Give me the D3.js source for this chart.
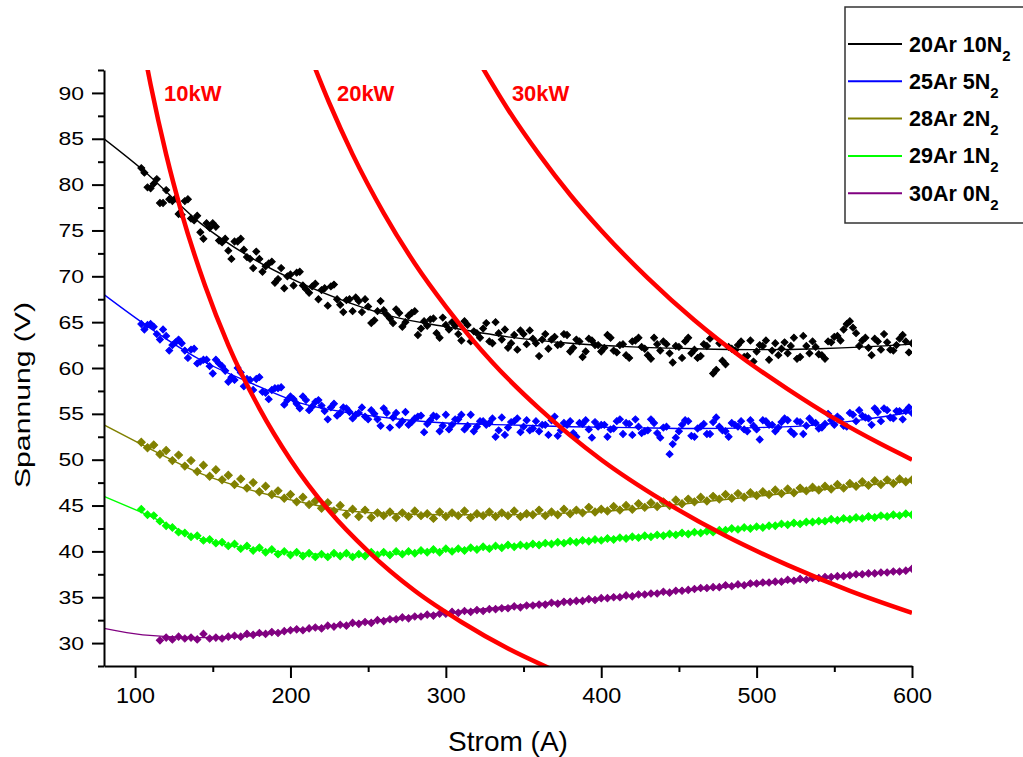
<!DOCTYPE html>
<html>
<head>
<meta charset="utf-8">
<script src="https://cdn.jsdelivr.net/npm/d3@7"></script>
<style>
  html, body { margin: 0; padding: 0; background: #fff; }
  svg { display: block; font-family: "Liberation Sans", Arial, sans-serif; }
</style>
</head>
<body>
<svg id="chart" width="1023" height="757"></svg>
<script>
// ---------- data ----------
const strom = d3.range(104, 601, 4);          // current (A), sampled every 4 A
const stromB = d3.range(106, 600, 4);         // interleaved second scan
const stromPurple = d3.range(116, 601, 4);

const u20Ar10N2 = [
81.8,79.7,80.1,78.0,79.4,78.2,76.8,78.2,76.3,76.6,
74.1,75.3,75.4,73.7,72.8,73.8,74.1,72.1,70.9,71.9,
71.1,71.6,69.7,68.7,70.2,70.4,69.0,68.2,69.2,68.5,
66.8,69.1,66.9,67.4,66.2,67.3,67.5,64.9,66.2,66.3,
65.4,66.4,64.5,65.7,66.2,64.3,64.6,65.4,63.3,64.7,
65.0,63.7,65.1,62.9,63.8,64.3,62.9,65.0,63.1,62.2,
63.6,64.1,62.6,63.2,61.3,63.7,63.1,62.5,63.7,61.8,
63.1,61.2,63.2,62.5,61.8,63.6,61.9,62.5,61.4,62.9,
63.3,62.1,61.0,62.6,62.9,61.6,62.4,61.1,63.3,62.0,
61.3,62.4,59.4,62.7,60.4,62.1,62.5,61.2,63.0,61.8,
62.4,60.9,62.7,62.1,61.6,63.3,61.2,62.4,62.9,61.5,
61.0,62.8,63.5,64.2,65.1,63.8,63.0,62.2,63.2,62.0,
62.8,61.9,63.2,62.9,62.7];
const u20Ar10N2b = [
81.3,79.6,80.6,78.0,78.4,78.5,76.7,78.4,76.1,74.8,
75.8,75.8,73.9,74.1,71.9,73.8,72.9,71.9,72.7,70.5,
71.4,69.3,70.9,70.0,69.0,70.5,68.6,68.9,67.5,68.7,
68.9,67.5,66.1,67.5,67.7,66.1,66.7,65.2,67.3,65.8,
64.9,66.0,65.0,66.0,63.6,65.1,65.3,63.8,65.5,64.2,
64.6,63.0,64.7,64.0,63.3,64.9,62.7,63.8,64.2,62.7,
62.0,63.7,64.1,62.7,63.1,62.1,63.4,62.6,63.6,62.2,
62.9,61.8,63.0,62.5,62.2,63.3,61.7,62.6,61.1,63.0,
62.3,61.4,63.3,61.9,62.6,60.6,62.3,62.9,61.6,61.1,
62.6,63.2,59.8,60.8,62.3,61.9,62.9,61.3,60.7,62.5,
63.0,61.9,61.4,62.8,62.4,61.0,63.5,61.6,62.3,61.4,
62.9,63.4,63.0,64.8,64.4,62.4,63.3,61.4,62.9,63.7,
62.0,62.5,63.6,61.7];

const u25Ar5N2 = [
64.8,64.7,64.5,63.1,63.5,62.5,63.1,61.9,62.0,60.5,
60.9,60.2,60.9,60.2,58.5,58.7,59.5,58.8,57.6,59.0,
57.3,57.6,57.8,56.0,56.9,56.1,56.9,55.4,56.3,55.9,
54.4,56.1,55.1,55.6,54.5,55.1,54.7,55.4,54.4,55.6,
53.5,55.1,54.2,53.8,54.5,54.8,53.9,54.8,53.1,54.9,
53.8,54.4,53.3,54.9,53.6,54.2,54.0,52.5,54.6,53.5,
54.2,53.0,54.3,53.4,53.1,53.8,54.3,52.6,54.0,54.2,
52.5,53.9,53.3,54.1,53.8,52.5,53.4,54.4,54.0,52.7,
53.6,53.1,54.4,52.9,53.5,50.6,52.4,53.8,54.2,52.5,
53.6,52.8,54.1,53.6,53.1,54.0,53.6,53.3,54.3,53.3,
54.3,53.8,53.1,54.1,54.3,52.8,54.1,53.7,54.1,53.4,
53.9,54.3,54.7,53.7,55.1,54.2,54.8,54.5,55.6,54.2,
55.4,54.5,55.3,55.3,55.1];
const u25Ar5N2b = [
64.2,64.8,63.7,64.2,61.9,62.8,62.7,61.1,62.1,60.7,
60.9,59.4,60.5,59.7,59.0,60.0,58.0,58.7,58.8,57.4,
56.6,57.8,57.9,56.5,56.6,55.6,56.5,55.8,56.5,55.3,
55.7,54.8,55.7,55.2,54.9,55.7,54.4,55.0,53.7,55.1,
54.6,53.8,55.2,54.1,54.7,53.0,54.3,54.7,53.7,53.3,
54.4,54.9,53.7,53.1,54.2,53.8,54.5,53.2,52.7,54.1,
54.5,53.6,53.2,54.2,53.8,52.7,54.7,53.2,53.8,52.9,
54.0,54.3,52.4,53.6,53.8,53.3,54.2,52.8,53.9,54.4,
52.9,53.2,54.0,52.4,53.6,51.7,53.1,54.3,52.6,53.4,
53.9,52.8,54.6,53.2,52.5,53.8,54.2,53.1,53.7,52.2,
54.2,53.8,53.5,54.5,53.1,54.2,52.8,54.5,54.0,53.5,
55.0,53.8,54.4,53.6,54.9,55.4,54.6,53.8,55.2,55.6,
54.6,55.3,54.4,55.7];

const u28Ar2N2 = [
51.9,51.3,51.6,50.6,51.0,49.9,50.5,49.3,49.9,48.7,
49.4,48.2,48.9,47.8,48.3,47.3,47.9,46.9,47.5,46.5,
47.1,46.2,46.6,45.8,46.2,45.4,45.9,45.1,45.5,44.7,
45.3,44.4,45.0,44.0,44.6,43.8,44.5,43.7,44.2,43.9,
44.3,43.7,44.2,43.8,44.4,43.9,44.1,43.6,44.3,43.8,
44.2,43.9,44.4,43.7,44.1,43.9,44.3,43.8,44.2,43.9,
44.4,43.8,44.1,44.0,44.5,43.9,44.3,44.0,44.6,44.1,
44.5,44.2,44.8,44.3,44.6,44.4,44.9,44.5,45.0,44.6,
45.2,44.8,45.3,44.9,45.4,45.0,45.6,45.2,45.7,45.4,
45.9,45.5,46.0,45.7,46.2,45.8,46.3,45.9,46.4,46.1,
46.5,46.2,46.7,46.3,46.8,46.4,46.9,46.6,47.0,46.7,
47.1,46.8,47.3,46.9,47.4,47.1,47.6,47.2,47.7,47.3,
47.8,47.4,47.9,47.6,47.8];

const u29Ar1N2 = [
44.6,44.0,43.9,43.3,42.8,42.6,42.1,42.0,41.6,41.7,
41.2,41.3,40.9,41.0,40.6,40.8,40.3,40.6,40.1,40.4,
39.9,40.2,39.7,40.0,39.6,39.9,39.5,39.8,39.4,39.7,
39.4,39.8,39.5,39.8,39.4,39.7,39.5,39.9,39.6,39.9,
39.6,40.0,39.7,40.0,39.8,40.1,39.9,40.2,39.9,40.3,
40.0,40.3,40.1,40.4,40.2,40.5,40.3,40.6,40.4,40.7,
40.5,40.7,40.6,40.8,40.7,40.9,40.8,41.0,40.9,41.1,
41.0,41.2,41.1,41.3,41.2,41.4,41.3,41.5,41.4,41.6,
41.5,41.7,41.6,41.8,41.7,41.9,41.8,42.0,41.9,42.1,
42.0,42.2,42.1,42.3,42.3,42.5,42.4,42.6,42.5,42.7,
42.6,42.8,42.8,43.0,42.9,43.1,43.0,43.2,43.2,43.3,
43.3,43.5,43.4,43.6,43.5,43.7,43.6,43.8,43.7,43.9,
43.8,44.0,43.9,44.1,44.0];

const u30Ar0N2 = [
30.3,30.6,30.4,30.7,30.5,30.6,30.4,31.0,30.5,30.6,
30.5,30.7,30.8,30.7,31.0,30.9,31.1,31.0,31.2,31.1,
31.3,31.4,31.5,31.4,31.6,31.7,31.6,31.9,31.8,32.0,
31.9,32.2,32.1,32.3,32.2,32.5,32.4,32.6,32.6,32.8,
32.7,32.9,32.9,33.1,33.0,33.2,33.2,33.4,33.3,33.5,
33.4,33.6,33.5,33.7,33.7,33.8,33.8,34.0,33.9,34.1,
34.1,34.2,34.2,34.4,34.3,34.5,34.5,34.6,34.6,34.8,
34.7,34.9,34.9,35.0,35.0,35.2,35.1,35.3,35.3,35.4,
35.4,35.6,35.5,35.7,35.7,35.8,35.9,36.0,36.0,36.1,
36.1,36.3,36.2,36.4,36.3,36.5,36.5,36.6,36.6,36.7,
36.7,36.9,36.8,37.0,36.9,37.1,37.1,37.2,37.2,37.3,
37.3,37.4,37.5,37.5,37.6,37.6,37.7,37.7,37.8,37.8,
37.9,38.1];

// fitted curves
const fitStrom       = [80, 105, 142, 174, 206, 238, 266, 300, 340, 380, 420, 460, 500, 540, 570, 600];
const fit20Ar10N2    = [85.0, 81.6, 75.8, 72.1, 69.3, 67.1, 65.6, 64.5, 63.4, 62.7, 62.3, 62.1, 62.0, 62.1, 62.3, 62.6];
const fit25Ar5N2     = [68.0, 64.9, 60.9, 58.4, 56.2, 55.1, 54.5, 54.0, 53.8, 53.6, 53.5, 53.4, 53.5, 53.8, 54.4, 55.2];
const fit28Ar2N2     = [53.8, 51.6, 48.5, 46.7, 45.4, 44.4, 44.1, 44.0, 44.0, 44.2, 44.6, 45.3, 46.0, 46.7, 47.2, 47.7];
const fit29Ar1N2     = [46.0, 44.2, 41.4, 40.3, 39.8, 39.6, 39.7, 40.1, 40.6, 41.0, 41.6, 42.1, 42.6, 43.2, 43.6, 44.0];
const fit30Ar0N2     = [31.6, 30.9, 30.6, 30.8, 31.5, 32.1, 32.7, 33.3, 34.0, 34.6, 35.2, 35.8, 36.4, 37.0, 37.5, 38.0];

// constant power lines (U = P / I)
const powerLabels = ["10kW", "20kW", "30kW"];
const power10I = [105, 110, 120, 130, 145, 160, 180, 200, 225, 250, 280, 310, 340, 370];
const power10U = [95.2, 90.9, 83.3, 76.9, 69.0, 62.5, 55.6, 50.0, 44.4, 40.0, 35.7, 32.3, 29.4, 27.0];
const power20I = [210, 225, 240, 260, 280, 300, 330, 360, 400, 440, 480, 520, 560, 600];
const power20U = [95.2, 88.9, 83.3, 76.9, 71.4, 66.7, 60.6, 55.6, 50.0, 45.5, 41.7, 38.5, 35.7, 33.3];
const power30I = [320, 340, 360, 380, 400, 430, 460, 490, 520, 550, 580, 600];
const power30U = [93.8, 88.2, 83.3, 78.9, 75.0, 69.8, 65.2, 61.2, 57.7, 54.5, 51.7, 50.0];
const powerLabelI = [118.6, 229.9, 342.5]; // label start (current axis)

const seriesNames = ["20Ar 10N", "25Ar 5N", "28Ar 2N", "29Ar 1N", "30Ar 0N"];
const seriesColors = ["#000000", "#0000ff", "#808000", "#00ff00", "#800080"];

const xTicks = [100, 200, 300, 400, 500, 600];
const xMinor = [150, 250, 350, 450, 550];
const yTicks = [30, 35, 40, 45, 50, 55, 60, 65, 70, 75, 80, 85, 90];
const yMinor = [27.5, 32.5, 37.5, 42.5, 47.5, 52.5, 57.5, 62.5, 67.5, 72.5, 77.5, 82.5, 87.5, 92.5];

// ---------- chart ----------
const svg = d3.select("#chart");
const L = 104, R = 912, T = 70, B = 666;
const x = d3.scaleLinear().domain([80, 600]).range([L, R]);
const y = d3.scaleLinear().domain([27.5, 92.5]).range([B, T]);

svg.append("rect").attr("width", 1023).attr("height", 757).attr("fill", "#fff");
svg.append("clipPath").attr("id", "clip")
  .append("rect").attr("x", L).attr("y", T).attr("width", R - L).attr("height", B - T);

const zip = (I, U) => I.map((v, i) => [v, U[i]]);
const series = [
  {name: seriesNames[0], color: seriesColors[0], pts: zip(strom, u20Ar10N2).concat(zip(stromB, u20Ar10N2b)), fit: fit20Ar10N2, size: 24},
  {name: seriesNames[1], color: seriesColors[1], pts: zip(strom, u25Ar5N2).concat(zip(stromB, u25Ar5N2b)), fit: fit25Ar5N2, size: 24},
  {name: seriesNames[2], color: seriesColors[2], pts: zip(strom, u28Ar2N2), fit: fit28Ar2N2, size: 32},
  {name: seriesNames[3], color: seriesColors[3], pts: zip(strom, u29Ar1N2), fit: fit29Ar1N2, size: 28},
  {name: seriesNames[4], color: seriesColors[4], pts: zip(stromPurple, u30Ar0N2), fit: fit30Ar0N2, size: 26},
];

const plot = svg.append("g").attr("clip-path", "url(#clip)");
const fitLine = d3.line().x(d => x(d[0])).y(d => y(d[1])).curve(d3.curveMonotoneX);

// fit lines
series.forEach(s => {
  plot.append("path")
    .datum(zip(fitStrom, s.fit))
    .attr("fill", "none").attr("stroke", s.color).attr("stroke-width", 1.4)
    .attr("d", fitLine);
});

// markers (small diamonds)
series.forEach(s => {
  const shape = d3.symbol().type(d3.symbolSquare).size(s.size)();
  plot.append("g").selectAll("path")
    .data(s.pts)
    .join("path")
    .attr("d", shape)
    .attr("fill", s.color)
    .attr("stroke", s.color).attr("stroke-width", 1)
    .attr("transform", d => `translate(${x(d[0])},${y(d[1])}) rotate(45)`);
});

// power curves
const powerCurves = [zip(power10I, power10U), zip(power20I, power20U), zip(power30I, power30U)];
const powerLine = d3.line().x(d => x(d[0])).y(d => y(d[1])).curve(d3.curveMonotoneX);
powerCurves.forEach(c => {
  plot.append("path").datum(c)
    .attr("fill", "none").attr("stroke", "#ff0000").attr("stroke-width", 4.5)
    .attr("d", powerLine);
});
powerLabels.forEach((t, i) => {
  svg.append("text")
    .attr("x", x(powerLabelI[i]))
    .attr("y", 100.5)
    .attr("fill", "#ff0000").attr("font-weight", "bold").attr("font-size", 22)
    .text(t);
});

// axes
function styleAxis(g) {
  g.selectAll("path.domain").attr("stroke", "#000").attr("stroke-width", 2);
  g.selectAll(".tick line").attr("stroke", "#000").attr("stroke-width", 2);
}
const gx = svg.append("g").attr("transform", `translate(0,${B})`)
  .call(d3.axisBottom(x).tickValues(xTicks).tickSize(12).tickPadding(9).tickSizeOuter(0));
styleAxis(gx);
gx.selectAll("text").attr("font-size", 22).attr("fill", "#000")
  .attr("font-family", "Liberation Sans, Arial, sans-serif")
  .attr("textLength", 39).attr("lengthAdjust", "spacingAndGlyphs");
const gxm = svg.append("g").attr("transform", `translate(0,${B})`)
  .call(d3.axisBottom(x).tickValues(xMinor).tickSize(6).tickFormat(""));
gxm.select("path.domain").remove();
styleAxis(gxm);

const gy = svg.append("g").attr("transform", `translate(${L},0)`)
  .call(d3.axisLeft(y).tickValues(yTicks).tickSize(12).tickPadding(8).tickSizeOuter(0));
styleAxis(gy);
gy.selectAll("text").attr("font-size", 19).attr("fill", "#000")
  .attr("font-family", "Liberation Sans, Arial, sans-serif")
  .attr("textLength", 25.5).attr("lengthAdjust", "spacingAndGlyphs");
const gym = svg.append("g").attr("transform", `translate(${L},0)`)
  .call(d3.axisLeft(y).tickValues(yMinor).tickSize(6).tickFormat(""));
gym.select("path.domain").remove();
styleAxis(gym);

// axis titles
svg.append("text").attr("x", (L + R) / 2).attr("y", 751)
  .attr("text-anchor", "middle").attr("font-size", 28).text("Strom (A)");
svg.append("text").attr("transform", "translate(30,395) rotate(-90)")
  .attr("text-anchor", "middle").attr("font-size", 22.5)
  .attr("textLength", 186).attr("lengthAdjust", "spacingAndGlyphs")
  .text("Spannung (V)");

// legend
const lg = svg.append("g");
lg.append("rect").attr("x", 845).attr("y", 7).attr("width", 200).attr("height", 216)
  .attr("fill", "#fff").attr("stroke", "#333").attr("stroke-width", 1.5);
series.forEach((s, i) => {
  const ly = 44 + i * 37.3;
  lg.append("line").attr("x1", 848).attr("x2", 902).attr("y1", ly).attr("y2", ly)
    .attr("stroke", s.color).attr("stroke-width", 2);
  const t = lg.append("text").attr("x", 909).attr("y", ly + 7.5)
    .attr("font-weight", "bold").attr("font-size", 21.5).attr("fill", "#000");
  t.append("tspan").text(s.name);
  t.append("tspan").attr("font-size", 15).attr("dy", 9).text("2");
});
</script>
</body>
</html>
